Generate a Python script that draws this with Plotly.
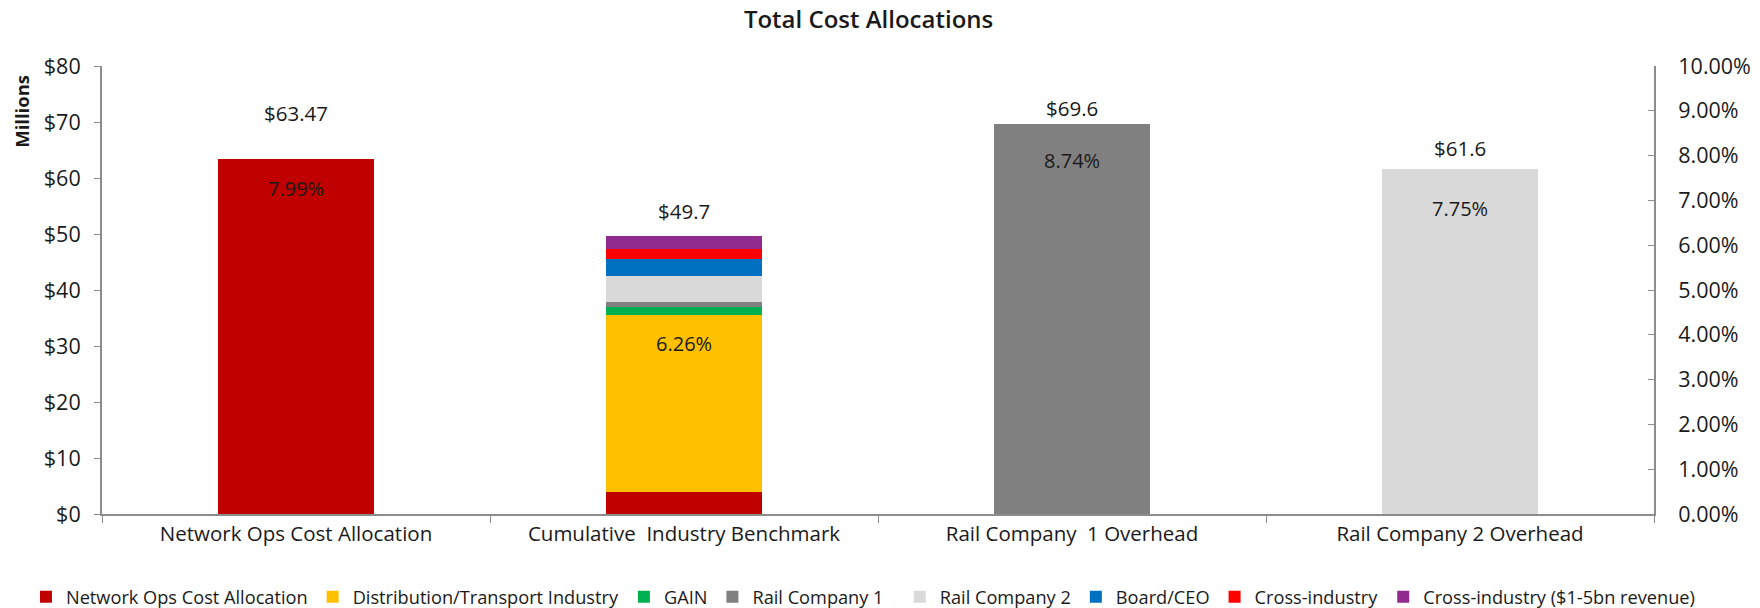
import plotly.graph_objects as go

categories = ["Network Ops Cost Allocation", "Cumulative  Industry Benchmark",
              "Rail Company  1 Overhead", "Rail Company 2 Overhead"]

series_names = ["Network Ops Cost Allocation", "Distribution/Transport Industry", "GAIN",
                "Rail Company 1", "Rail Company 2", "Board/CEO", "Cross-industry",
                "Cross-industry ($1-5bn revenue)"]
network_ops = [63.47, 3.93, 0, 0]
distribution = [0, 31.57, 0, 0]
gain = [0, 1.40, 0, 0]
rail_co_1 = [0, 0.96, 69.6, 0]
rail_co_2 = [0, 4.64, 0, 61.6]
board_ceo = [0, 3.00, 0, 0]
cross_industry = [0, 1.80, 0, 0]
cross_industry_1_5bn = [0, 2.40, 0, 0]
series_values = [network_ops, distribution, gain, rail_co_1, rail_co_2,
                 board_ceo, cross_industry, cross_industry_1_5bn]
series_colors = ["#C00000", "#FFC000", "#00B050", "#808080", "#D9D9D9",
                 "#0070C0", "#FF0000", "#912B8F"]
# the legend row is split over two plotly legends placed side by side
series_legend = ["legend", "legend", "legend", "legend",
                 "legend2", "legend2", "legend2", "legend2"]

total_labels = ["$63.47", "$49.7", "$69.6", "$61.6"]
pct_labels = ["7.99%", "6.26%", "8.74%", "7.75%"]
total_label_shift = [46, 25, 16, 21]
pct_label_shift = [-30, -28, -36, -39]

left_ticks = [0, 10, 20, 30, 40, 50, 60, 70, 80]
left_tick_text = ["$0", "$10", "$20", "$30", "$40", "$50", "$60", "$70", "$80"]
right_ticks = [i / 100 for i in range(0, 11)]
right_tick_text = ["0.00%", "1.00%", "2.00%", "3.00%", "4.00%", "5.00%",
                   "6.00%", "7.00%", "8.00%", "9.00%", "10.00%"]

FONT = "Open Sans"
AXIS_COLOR = "#8C8C8C"
TEXT_COLOR = "#1A1A1A"

fig = go.Figure()
for name, vals, col, lg in zip(series_names, series_values, series_colors, series_legend):
    fig.add_trace(go.Bar(x=categories, y=vals, name=name, marker_color=col,
                         marker_line_width=0, width=0.4, hoverinfo="skip", legend=lg))

# invisible trace to activate the secondary (percentage) axis
fig.add_trace(go.Scatter(x=categories, y=[None] * 4, yaxis="y2", showlegend=False,
                         mode="markers", hoverinfo="skip"))

totals = [sum(s[i] for s in series_values) for i in range(4)]
# percentage label anchored at top of the main segment of each bar
pct_anchor = [network_ops[0], network_ops[1] + distribution[1], rail_co_1[2], rail_co_2[3]]

for i, c in enumerate(categories):
    fig.add_annotation(x=c, y=totals[i], text=total_labels[i], showarrow=False,
                       yshift=total_label_shift[i], yanchor="middle",
                       font=dict(family=FONT, size=20.5, color=TEXT_COLOR))
    fig.add_annotation(x=c, y=pct_anchor[i], text=pct_labels[i], showarrow=False,
                       yshift=pct_label_shift[i], yanchor="middle",
                       font=dict(family=FONT, size=20, color=TEXT_COLOR))

fig.add_annotation(xref="paper", yref="paper", x=-0.0515, y=0.898, text="<b>Millions</b>",
                   textangle=-90, showarrow=False, xanchor="center", yanchor="middle",
                   font=dict(family=FONT, size=18.5, color=TEXT_COLOR))

legend_font = dict(family=FONT, size=18.2, color=TEXT_COLOR)

fig.update_layout(
    width=1760, height=608,
    margin=dict(l=102, r=106, t=66, b=94, autoexpand=False),
    barmode="stack",
    plot_bgcolor="white", paper_bgcolor="white",
    font=dict(family=FONT, color=TEXT_COLOR),
    title=dict(text="Total Cost Allocations", x=0.4935, xanchor="center",
               y=0.967, yanchor="middle",
               font=dict(family=FONT, size=24, color=TEXT_COLOR, weight=600)),
    xaxis=dict(showline=True, linecolor=AXIS_COLOR, linewidth=2, ticks="outside",
               tickson="boundaries", ticklen=7, tickcolor=AXIS_COLOR, tickwidth=1,
               automargin=False,
               tickfont=dict(family=FONT, size=20.5, color=TEXT_COLOR), showgrid=False),
    yaxis=dict(range=[0, 80], tickvals=left_ticks, ticktext=left_tick_text,
               showline=True, linecolor=AXIS_COLOR, linewidth=2, ticks="outside",
               ticklen=6, tickcolor=AXIS_COLOR, showgrid=False, zeroline=False,
               automargin=False, ticklabelstandoff=9,
               tickfont=dict(family=FONT, size=21.5, color=TEXT_COLOR)),
    yaxis2=dict(range=[0, 0.10], tickvals=right_ticks, ticktext=right_tick_text,
                overlaying="y", side="right", showline=True, linecolor=AXIS_COLOR,
                linewidth=2, ticks="inside", ticklen=6, tickcolor=AXIS_COLOR,
                showgrid=False, zeroline=False, automargin=False, ticklabelstandoff=18,
                tickfont=dict(family=FONT, size=21.5, color=TEXT_COLOR)),
    legend=dict(orientation="h", x=-0.049, xanchor="left", y=-0.185, yanchor="middle",
                font=legend_font, itemwidth=30, traceorder="normal"),
    legend2=dict(orientation="h", x=0.514, xanchor="left", y=-0.185, yanchor="middle",
                 font=legend_font, itemwidth=30, traceorder="normal"),
    showlegend=True,
)

fig.write_html("out.html")
